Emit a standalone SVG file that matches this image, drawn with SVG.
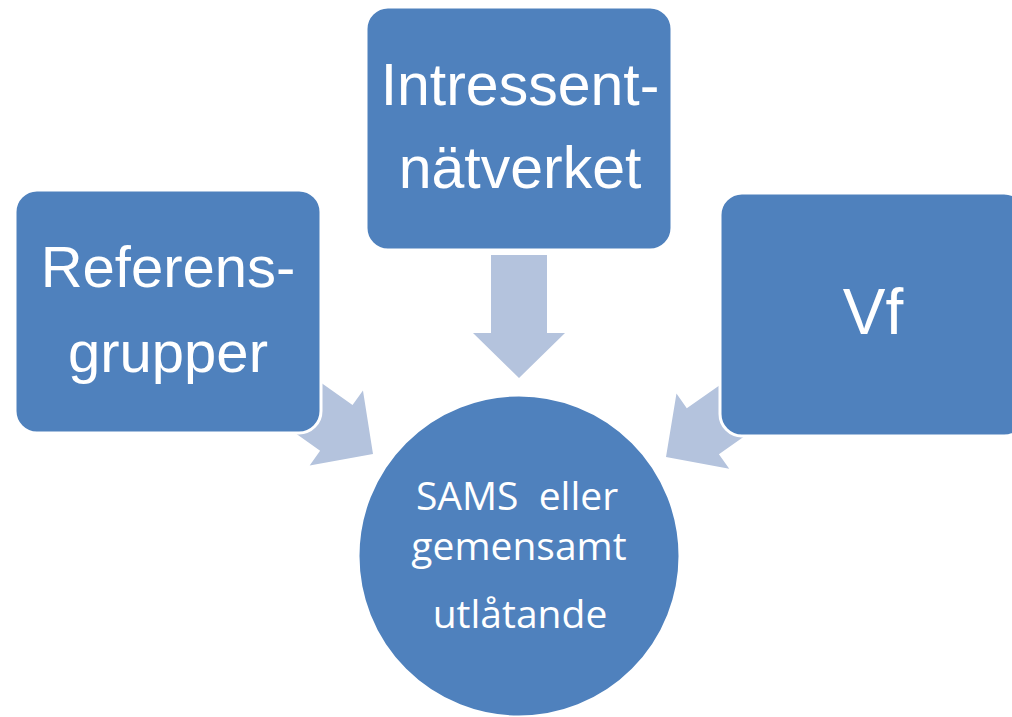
<svg xmlns="http://www.w3.org/2000/svg" width="1012" height="717" viewBox="0 0 1012 717">
<style>
.box{fill:#4f81bd;stroke:#ffffff;stroke-width:3}
.arrow{fill:#b4c3dd;stroke:none}
.bt{font-family:"Liberation Sans",Arial,sans-serif;fill:#ffffff;text-anchor:middle}
.ct{font-family:"Open Sans","Noto Sans",sans-serif;font-size:39px;fill:#ffffff;text-anchor:middle;white-space:pre}
</style>
<defs>
<path id="arr" d="M-123,-28 L-45,-28 L-45,-46 L0,0 L-45,46 L-45,28 L-123,28 Z"/>
</defs>
<rect width="1012" height="717" fill="#ffffff"/>
<g id="connectors">
<use href="#arr" class="arrow" transform="translate(519,378) rotate(90)"/>
<use href="#arr" class="arrow" transform="translate(373,454) rotate(35.4)"/>
<use href="#arr" class="arrow" transform="translate(666,457) rotate(145)"/>
</g>
<g id="node-referensgrupper">
<rect class="box" x="15" y="190" width="306" height="243" rx="22"/>
<text class="bt" font-size="58" x="168" y="287">Referens-</text>
<text class="bt" font-size="58" x="168" y="372">grupper</text>
</g>
<g id="node-intressentnatverket">
<rect class="box" x="366" y="7" width="306" height="243" rx="22"/>
<text class="bt" font-size="59" x="520" y="105">Intressent-</text>
<text class="bt" font-size="59" x="520" y="188">nätverket</text>
</g>
<g id="node-vf">
<rect class="box" x="720" y="193" width="306" height="243" rx="22"/>
<text class="bt" font-size="64" x="873" y="334">Vf</text>
</g>
<g id="node-sams">
<circle cx="519" cy="556" r="161" class="box"/>
<text class="ct" x="517" y="510" xml:space="preserve">SAMS  eller</text>
<text class="ct" x="519" y="560">gemensamt</text>
<text class="ct" x="520" y="628">utlåtande</text>
</g>
</svg>
